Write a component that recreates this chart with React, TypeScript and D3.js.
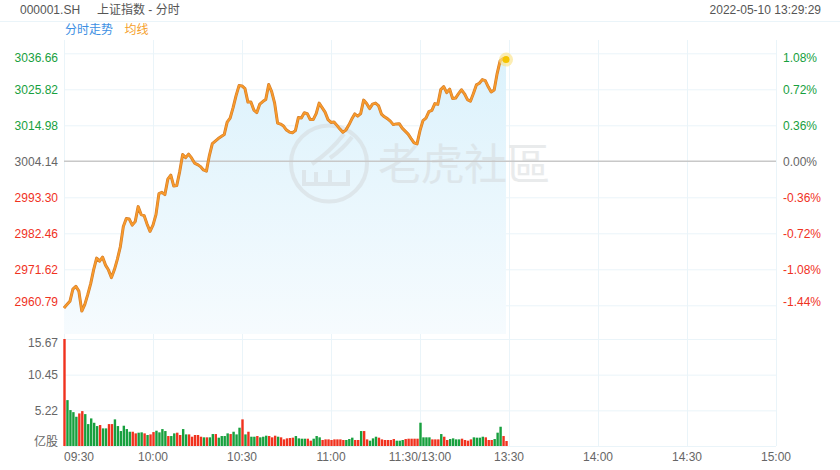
import React from 'react';
import * as d3 from 'd3';

// 上证指数 分时 2022-05-10, one point per minute from 09:30 to 13:29
const preClose = 3004.14;
const priceStep = 10.84;

const prices = [
  2960.00, 2960.99, 2961.98, 2965.66, 2966.50, 2965.06, 2959.03, 2960.99, 2964.00, 2967.31,
  2971.53, 2974.99, 2974.09, 2975.29, 2972.88, 2971.38, 2969.12, 2971.53, 2974.69, 2978.46,
  2984.48, 2986.89, 2986.74, 2984.93, 2985.98, 2990.50, 2988.09, 2987.79, 2985.23, 2983.06,
  2984.93, 2988.09, 2994.41, 2994.78, 2994.11, 2998.78, 2999.98, 2996.67, 2996.82, 3001.04,
  3006.16, 3005.25, 3006.31, 3005.16, 3003.60, 3003.15, 3002.54, 3001.55, 3001.19, 3005.86,
  3009.47, 3010.22, 3010.98, 3011.58, 3012.18, 3015.94, 3017.15, 3020.31, 3023.92, 3026.93,
  3026.84, 3026.03, 3021.97, 3021.97, 3019.56, 3018.80, 3021.36, 3022.12, 3022.72, 3027.24,
  3025.13, 3021.66, 3015.64, 3015.34, 3014.74, 3013.53, 3012.93, 3012.72, 3013.38, 3017.30,
  3017.15, 3018.74, 3018.50, 3016.70, 3016.70, 3018.50, 3021.66, 3020.31, 3018.95, 3016.70,
  3015.85, 3016.00, 3014.95, 3013.84, 3012.87, 3013.53, 3015.04, 3016.85, 3018.41, 3017.75,
  3018.50, 3022.57, 3021.57, 3020.01, 3021.36, 3021.66, 3020.91, 3018.35, 3017.54, 3017.00,
  3016.24, 3015.19, 3015.40, 3015.46, 3014.14, 3013.23, 3012.33, 3010.98, 3009.71, 3009.38,
  3013.38, 3016.40, 3017.15, 3019.11, 3019.50, 3021.51, 3021.30, 3025.73, 3026.63, 3024.83,
  3025.88, 3023.02, 3023.17, 3024.53, 3025.67, 3024.47, 3022.72, 3022.21, 3024.53, 3027.14,
  3027.63, 3028.74, 3028.44, 3026.57, 3025.01, 3025.58, 3030.55, 3034.40, 3035.06, 3034.76,
];

// volume in 亿股
const volumes = [
  15.67, 6.72, 5.26, 4.96, 4.28, 4.77, 5.11, 4.67, 3.21, 4.04,
  3.40, 2.92, 3.07, 2.58, 2.58, 3.21, 3.21, 3.90, 2.92, 2.19,
  2.97, 2.48, 2.09, 2.09, 1.85, 1.95, 2.00, 1.85, 1.61, 1.70,
  2.04, 2.24, 2.00, 2.48, 2.19, 1.46, 1.46, 1.85, 1.95, 1.61,
  2.48, 1.70, 1.70, 1.36, 1.61, 1.61, 1.36, 1.27, 1.27, 1.27,
  1.75, 1.75, 1.22, 1.46, 1.46, 1.85, 1.75, 2.09, 1.70, 2.68,
  3.90, 1.70, 2.09, 1.36, 1.36, 1.46, 1.27, 1.36, 1.51, 1.46,
  1.27, 1.51, 1.36, 1.27, 0.97, 1.12, 1.17, 1.22, 1.46, 1.12,
  1.07, 1.07, 1.07, 0.78, 1.07, 1.46, 1.27, 0.88, 0.97, 0.97,
  0.88, 0.97, 0.97, 0.97, 0.88, 0.88, 1.02, 1.22, 0.88, 0.88,
  2.19, 2.19, 0.97, 0.78, 1.12, 1.36, 1.22, 0.97, 0.88, 0.88,
  0.88, 1.02, 0.78, 0.78, 0.88, 1.02, 1.07, 1.07, 1.07, 1.07,
  3.41, 1.27, 1.27, 1.27, 0.97, 0.97, 0.97, 1.75, 1.36, 0.88,
  1.02, 1.12, 0.97, 0.97, 1.07, 0.88, 0.78, 0.97, 1.27, 1.22,
  1.22, 1.36, 1.27, 0.88, 0.88, 1.02, 1.95, 2.82, 1.46, 0.73,
];

// 1 = red bar, 0 = green bar
const volumeRed = [
  1, 0, 0, 0, 0, 1, 1, 0, 0, 0,
  0, 0, 1, 0, 0, 1, 1, 0, 0, 0,
  0, 0, 0, 1, 1, 0, 0, 1, 0, 1,
  1, 0, 0, 0, 0, 1, 0, 0, 1, 1,
  0, 0, 1, 1, 1, 1, 1, 0, 1, 0,
  0, 1, 0, 0, 0, 0, 1, 0, 0, 0,
  1, 0, 1, 0, 0, 1, 0, 0, 0, 1,
  1, 1, 0, 1, 1, 1, 1, 1, 0, 0,
  0, 0, 1, 1, 0, 0, 0, 1, 1, 1,
  1, 1, 1, 1, 1, 0, 0, 0, 1, 1,
  0, 1, 1, 0, 0, 0, 1, 1, 1, 1,
  1, 1, 0, 0, 0, 1, 1, 1, 1, 1,
  0, 0, 0, 0, 1, 1, 1, 0, 1, 1,
  0, 0, 0, 0, 1, 1, 1, 1, 0, 0,
  0, 0, 1, 1, 1, 0, 0, 0, 1, 1,
];

const priceTickLabels = ['3036.66', '3025.82', '3014.98', '3004.14', '2993.30', '2982.46', '2971.62', '2960.79'];
const pctTickLabels = ['1.08%', '0.72%', '0.36%', '0.00%', '-0.36%', '-0.72%', '-1.08%', '-1.44%'];
const priceTickSteps = [3, 2, 1, 0, -1, -2, -3, -4];
const volTickLabels = ['15.67', '10.45', '5.22', '亿股'];
const volTickValues = [15.67, 10.45, 5.22, 0];
const timeLabels = ['09:30', '10:00', '10:30', '11:00', '11:30/13:00', '13:30', '14:00', '14:30', '15:00'];
const timeIndex = [0, 30, 60, 90, 120, 150, 180, 210, 240];

const W = 840;
const H = 470;
const left = 64;
const right = 776;
const GREEN = '#17a03e';
const RED = '#f0321e';
const GRID = '#eaf4f9';
const FONT = '"Liberation Sans", Arial, "Noto Sans CJK SC", sans-serif';

export default function App() {
  const x = d3.scaleLinear().domain([0, 240]).range([left, right]);
  const y = d3.scaleLinear()
    .domain([preClose - 4 * priceStep, preClose + 3 * priceStep])
    .range([305.3, 53.3]);
  const yv = d3.scaleLinear().domain([0, 15.67]).range([446, 339]);
  const areaBottom = 334;

  const line = d3.line<number>().x((_, i) => x(i)).y(d => y(d));
  const area = d3.area<number>().x((_, i) => x(i)).y0(areaBottom).y1(d => y(d));

  const last = prices.length - 1;
  const tickColor = (s: number) => (s > 0 ? GREEN : s < 0 ? RED : '#666');
  const labelNudge = (i: number, n: number) => (i === 0 ? 4 : i === n - 1 ? -4 : 0);

  return (
    <div style={{ position: 'fixed', left: 0, top: 0 }}>
      <svg width={W} height={H} style={{ display: 'block', fontFamily: FONT }}>
        <defs>
          <linearGradient id="fillGrad" x1="0" y1="0" x2="0" y2="1">
            <stop offset="0%" stopColor="#dcf2fc" />
            <stop offset="100%" stopColor="#f6fbfe" />
          </linearGradient>
        </defs>
        <rect width={W} height={H} fill="#fff" />

        {/* header */}
        <text x={20} y={14} fontSize={12} fill="#555">000001.SH</text>
        <text x={97} y={14} fontSize={12} fill="#555">上证指数 - 分时</text>
        <text x={821} y={14} fontSize={12} fill="#555" textAnchor="end">2022-05-10 13:29:29</text>
        <line x1={0} x2={W} y1={21.5} y2={21.5} stroke={GRID} />
        <text x={65} y={33.5} fontSize={12} fill="#3c8fe3">分时走势</text>
        <text x={124.5} y={33.5} fontSize={12} fill="#f5a02a">均线</text>

        {/* vertical grid */}
        {timeIndex.map(t => (
          <line key={'v' + t} x1={x(t) + 0.5} x2={x(t) + 0.5} y1={40} y2={446} stroke={GRID} />
        ))}
        {/* price grid */}
        {priceTickSteps.map(s => s !== 0 && (
          <line key={'h' + s} x1={left} x2={right} y1={y(preClose + s * priceStep) + 0.5} y2={y(preClose + s * priceStep) + 0.5} stroke={GRID} />
        ))}
        {/* volume grid */}
        {volTickValues.map(v => (
          <line key={'vg' + v} x1={left} x2={right} y1={yv(v) + 0.5} y2={yv(v) + 0.5} stroke={GRID} />
        ))}

        {/* area + watermark */}
        <path d={area(prices) || ''} fill="url(#fillGrad)" />
        <g opacity={0.5}>
          <circle cx={329} cy={163.5} r={38} fill="none" stroke="#d4d8da" strokeWidth={4} />
          <path d="M352,137 Q342,150 330,158 M344,134 Q330,152 312,164" fill="none" stroke="#d4d8da" strokeWidth={4} />
          <path d="M304,170 L304,184 L348,184 L348,170 M316,172 L316,184 M330,170 L330,184" fill="none" stroke="#d4d8da" strokeWidth={4} />
          <text x={378} y={180} fontSize={43} fill="#d4d8da" fontFamily='"Noto Sans CJK TC", "Noto Sans CJK SC", sans-serif'>老虎社區</text>
        </g>

        {/* pre-close line */}
        <line x1={left} x2={right} y1={y(preClose)} y2={y(preClose)} stroke="#c8c8c8" strokeWidth={1.5} />

        {/* price line */}
        <path d={line(prices) || ''} fill="none" stroke="#d27d2a" strokeWidth={3} strokeLinejoin="round" />
        <path d={line(prices) || ''} fill="none" stroke="#f89a2c" strokeWidth={1.8} strokeLinejoin="round" />
        <circle cx={x(last)} cy={y(prices[last])} r={7} fill="#fbe38a" opacity={0.65} />
        <circle cx={x(last)} cy={y(prices[last])} r={3.5} fill="#f5c400" />

        {/* volume bars */}
        {volumes.map((v, i) => (
          <rect key={'b' + i} x={x(i) - 0.7} y={yv(v)} width={2.4} height={yv(0) - yv(v)}
            fill={volumeRed[i] ? RED : GREEN} />
        ))}

        {/* price axis labels */}
        {priceTickSteps.map((s, i) => (
          <text key={'pl' + s} x={58} y={y(preClose + s * priceStep) + labelNudge(i, priceTickSteps.length)}
            dy="0.35em" fontSize={12} textAnchor="end" fill={tickColor(s)}>{priceTickLabels[i]}</text>
        ))}
        {priceTickSteps.map((s, i) => (
          <text key={'pr' + s} x={783} y={y(preClose + s * priceStep) + labelNudge(i, priceTickSteps.length)}
            dy="0.35em" fontSize={12} fill={tickColor(s)}>{pctTickLabels[i]}</text>
        ))}
        {/* volume axis labels */}
        {volTickValues.map((v, i) => (
          <text key={'vl' + v} x={58} y={yv(v) + labelNudge(i, volTickValues.length)} dy="0.35em"
            fontSize={12} textAnchor="end" fill="#666">{volTickLabels[i]}</text>
        ))}
        {/* time labels */}
        {timeIndex.map((t, i) => (
          <text key={'tl' + t} x={x(t)} y={461} fontSize={12} fill="#666"
            textAnchor={i === 0 ? 'start' : 'middle'}>{timeLabels[i]}</text>
        ))}
      </svg>
    </div>
  );
}
